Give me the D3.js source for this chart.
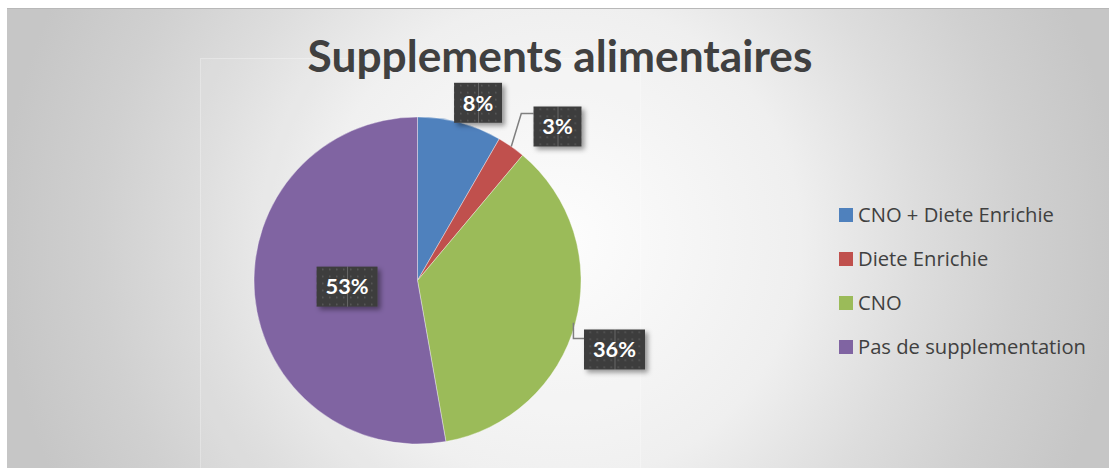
<!DOCTYPE html>
<html>
<head>
<meta charset="utf-8">
<script src="https://cdn.jsdelivr.net/npm/d3@7"></script>
<style>
  html, body { margin: 0; padding: 0; background: #ffffff; }
  svg { display: block; }
</style>
</head>
<body>
<script>
// ---- data ----
const categories = ["CNO + Diete Enrichie", "Diete Enrichie", "CNO", "Pas de supplementation"];
const values = [3, 1, 13, 19];
const colors = ["#4f81bd", "#c0504d", "#9bbb59", "#8064a2"];
const title = "Supplements alimentaires";

// ---- layout ----
const W = 1109, H = 469;
const cx = 417.5, cy = 280.5, R = 163.5;

const svg = d3.select("body").append("svg").attr("width", W).attr("height", H);
const defs = svg.append("defs");

const bg = defs.append("radialGradient").attr("id", "bg")
  .attr("gradientUnits", "userSpaceOnUse")
  .attr("cx", 560).attr("cy", 240).attr("r", 560);
[[0, "#fdfdfd"], [0.43, "#efefef"], [0.64, "#dddddd"], [0.82, "#d0d0d0"], [1, "#c6c6c6"]]
  .forEach(([o, c]) => bg.append("stop").attr("offset", o).attr("stop-color", c));

const pat = defs.append("pattern").attr("id", "dots")
  .attr("patternUnits", "userSpaceOnUse").attr("width", 7).attr("height", 7);
pat.append("rect").attr("width", 7).attr("height", 7).attr("fill", "#3d3d3d");
pat.append("rect").attr("x", 3).attr("y", 3).attr("width", 1.5).attr("height", 1.5).attr("fill", "#5c5c5c");

const sh = defs.append("filter").attr("id", "shadow")
  .attr("x", "-30%").attr("y", "-30%").attr("width", "170%").attr("height", "170%");
sh.append("feDropShadow").attr("dx", 3).attr("dy", 3).attr("stdDeviation", 2.5)
  .attr("flood-color", "#000").attr("flood-opacity", 0.4);

// chart area
svg.append("rect").attr("x", 7).attr("y", 8).attr("width", W - 7).attr("height", 460)
  .attr("fill", "url(#bg)");
svg.append("line").attr("x1", 7).attr("x2", W).attr("y1", 8.5).attr("y2", 8.5)
  .attr("stroke", "#b8b8b8").attr("stroke-width", 1);
// faint plot area
svg.append("rect").attr("x", 200.5).attr("y", 58.5).attr("width", 440).attr("height", 420)
  .attr("fill", "rgba(255,255,255,0.08)").attr("stroke", "rgba(255,255,255,0.3)");

// title
const t = svg.append("text").text(title)
  .attr("x", 560).attr("y", 72)
  .attr("text-anchor", "middle")
  .attr("font-family", "Lato, 'Open Sans', sans-serif")
  .attr("font-weight", "bold")
  .attr("font-size", 42)
  .attr("fill", "#404040");
{
  const w = t.node().getComputedTextLength();
  t.attr("font-size", 42 * 505 / w);
}

// pie
const pie = d3.pie().sort(null).value(d => d)(values);
const arc = d3.arc().innerRadius(0).outerRadius(R);
const g = svg.append("g").attr("transform", `translate(${cx},${cy})`);
g.selectAll("path").data(pie).join("path")
  .attr("d", arc)
  .attr("fill", (d, i) => colors[i])
  .attr("stroke", "rgba(255,255,255,0.6)")
  .attr("stroke-width", 0.6);

// labels
const total = d3.sum(values);
const fmt = v => Math.round(v / total * 100) + "%";
const pol = (a, r) => [r * Math.sin(a), -r * Math.cos(a)];
const place = [
  { k: 1.1, dx: 14, dy: -4, leader: false },
  { k: null, box: [140, -154], leader: true },
  { k: null, box: [197, 69], leader: true },
  { k: 0.5, dx: 11, dy: -1, leader: false }
];

// label font size fitted so that "36%" is ~44px wide
let labFont = 21;
{
  const probe = svg.append("text").text("36%")
    .attr("font-family", "Lato, 'Open Sans', sans-serif")
    .attr("font-weight", "bold").attr("font-size", labFont);
  labFont = labFont * 43 / probe.node().getComputedTextLength();
  probe.remove();
}

const lab = g.append("g");
pie.forEach((d, i) => {
  const mid = (d.startAngle + d.endAngle) / 2;
  const p = place[i];
  let lx, ly;
  if (p.k != null) {
    const q = pol(mid, R * p.k);
    lx = q[0] + p.dx; ly = q[1] + p.dy;
  } else {
    lx = p.box[0]; ly = p.box[1];
  }
  const txt = fmt(d.value);
  const lg = lab.append("g").attr("transform", `translate(${lx},${ly})`);
  const tt = lg.append("text").text(txt)
    .attr("text-anchor", "middle").attr("dy", "0.36em")
    .attr("font-family", "Lato, 'Open Sans', sans-serif")
    .attr("font-weight", "bold").attr("font-size", labFont)
    .attr("fill", "#ffffff");
  const tw = tt.node().getComputedTextLength();
  const bw = Math.round(tw + 18), bh = 40;
  lg.insert("rect", "text")
    .attr("x", -bw / 2).attr("y", -bh / 2).attr("width", bw).attr("height", bh)
    .attr("fill", "url(#dots)").attr("filter", "url(#shadow)");
  lg.insert("line", "text")
    .attr("x1", 0.5).attr("x2", 0.5).attr("y1", -bh / 2).attr("y2", bh / 2)
    .attr("stroke", "rgba(255,255,255,0.22)");
  if (p.leader) {
    const a = pol(mid, R);
    let pts;
    if (i === 1) {
      pts = [a, [a[0] + 10, ly - 13], [lx - bw / 2, ly - 13]];
    } else {
      pts = [[a[0] - 2, a[1]], [a[0] - 2, ly - 11], [lx - bw / 2, ly - 11]];
    }
    lab.insert("path", "g").attr("d", d3.line()(pts))
      .attr("fill", "none").attr("stroke", "#7f7f7f").attr("stroke-width", 1.5);
  }
});

// legend
const leg = svg.append("g").attr("transform", "translate(839,208)");
categories.forEach((c, i) => {
  const row = leg.append("g").attr("transform", `translate(0,${i * 44})`);
  row.append("rect").attr("width", 14).attr("height", 14).attr("fill", colors[i]);
  const tx = row.append("text").text(c)
    .attr("x", 19).attr("y", 13.5)
    .attr("font-family", "'Open Sans', Lato, sans-serif")
    .attr("font-size", 18).attr("fill", "#404040");
});
{
  const longest = leg.selectAll("text").nodes()[3];
  const w = longest.getComputedTextLength();
  leg.selectAll("text").attr("font-size", 18 * 228 / w);
}
</script>
</body>
</html>
